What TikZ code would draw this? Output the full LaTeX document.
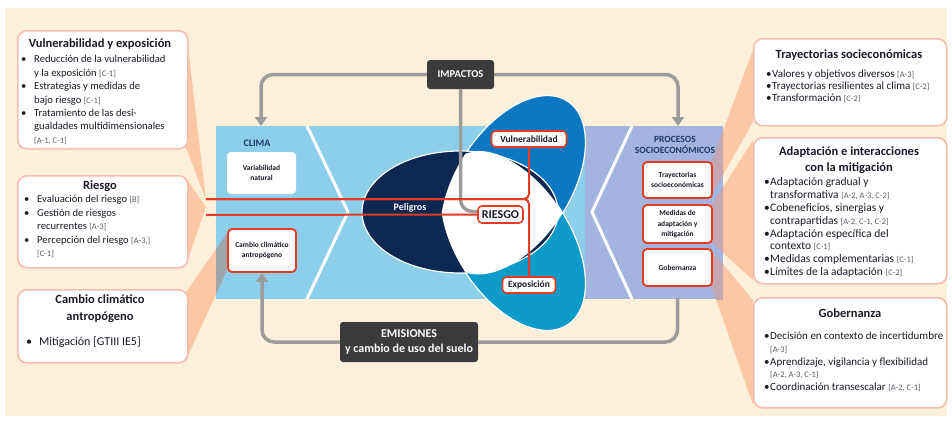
\documentclass[tikz,border=0pt]{standalone}
\usepackage{fontspec}
\setmainfont{Carlito}
\usetikzlibrary{arrows.meta}
\definecolor{bgbeige}{HTML}{FDF0DB}
\definecolor{fanpeach}{HTML}{FCC7A5}
\definecolor{boxline}{HTML}{F6BDAE}
\definecolor{panelblue}{HTML}{8DCFEA}
\definecolor{panellav}{HTML}{A3B5DE}
\definecolor{navyell}{HTML}{0C2752}
\definecolor{vulblue}{HTML}{0B78C1}
\definecolor{expteal}{HTML}{0E9BC9}
\definecolor{riskred}{HTML}{E63B23}
\definecolor{arrgray}{HTML}{9C9C9C}
\definecolor{boxdark}{HTML}{3B3B3B}
\definecolor{titlenavy}{HTML}{1D3A6C}
\definecolor{txtdark}{HTML}{1A1A28}
\definecolor{refgray}{HTML}{5A5A66}
\definecolor{fangray}{HTML}{9EA6AA}
\definecolor{fanmauve}{HTML}{C3A6B2}
\newcommand{\bul}{\makebox[13pt][l]{\textbullet}}
\newcommand{\ind}{\hspace*{13pt}}
\newcommand{\rbul}{\makebox[6pt][l]{\textbullet}}
\newcommand{\rind}{\hspace*{6pt}}
\newcommand{\rf}[1]{{\fontsize{8.5}{9}\selectfont\color{refgray}[#1]}}
\tikzset{
  sidebox/.style={draw=boxline, line width=1.6pt, fill=white, rounded corners=9pt, anchor=north west, inner sep=0pt},
  sidetitle/.style={font=\fontsize{12.5}{16.5}\selectfont\bfseries, text=txtdark, align=center, inner sep=0pt},
  sidetext/.style={font=\fontsize{10.6}{13.4}\selectfont, text=txtdark, align=left, anchor=north west, inner sep=0pt},
  procbox/.style={draw=riskred, line width=1.8pt, fill=white, rounded corners=4pt, inner sep=0pt, align=center, font=\fontsize{7.5}{10.5}\selectfont\bfseries, text=txtdark},
  climbox/.style={fill=white, rounded corners=4pt, inner sep=0pt, align=center, font=\fontsize{7.5}{10}\selectfont\bfseries, text=txtdark},
  redlbl/.style={draw=riskred, line width=1.6pt, fill=white, rounded corners=4pt, inner sep=0pt, font=\fontsize{9.5}{11}\selectfont\bfseries, text=txtdark},
  darkbx/.style={fill=boxdark, rounded corners=3pt, text=white, inner sep=0pt, align=center},
  grayline/.style={draw=arrgray, line width=3.5pt, rounded corners=12pt},
  grayarrow/.style={grayline, -{Triangle[length=9pt,width=12pt]}},
  redline/.style={draw=riskred, line width=2pt},
}
\begin{document}
\begin{tikzpicture}[x=1pt,y=-1pt,line join=round]
\useasboundingbox (0,0) rectangle (952,421);
\fill[bgbeige] (5,8) rectangle (947,416);
% fans
\fill[fanpeach] (186,30) -- (206,200) -- (186,148) -- cycle;
\fill[fanpeach] (186,178) -- (206,207) -- (186,265) -- cycle;
\fill[fanpeach] (186,292) -- (228,232) -- (228,268) -- (186,360) -- cycle;
\fill[fanpeach] (753,50) -- (711,163) -- (711,196) -- (753,122) -- cycle;
\fill[fanpeach] (753,140) -- (711,206) -- (711,242) -- (753,280) -- cycle;
\fill[fanpeach] (753,300) -- (711,250) -- (711,285) -- (753,405) -- cycle;
% panels
\fill[panelblue] (216,126) rectangle (585,299);
\fill[panellav] (585,126) rectangle (723,299);
\begin{scope}
\clip (216,126) rectangle (723,299);
\fill[fangray] (186,292) -- (228,232) -- (228,268) -- (186,360) -- cycle;
\fill[fanmauve] (753,50) -- (711,163) -- (711,196) -- (753,122) -- cycle;
\fill[fanmauve] (753,140) -- (711,206) -- (711,242) -- (753,280) -- cycle;
\fill[fanmauve] (753,300) -- (711,250) -- (711,285) -- (753,405) -- cycle;
\end{scope}
\draw[white, line width=3pt] (307,126) -- (348,212) -- (307,299);
\draw[white, line width=3pt] (632,126) -- (592,212) -- (632,299);
% ellipses
\filldraw[fill=vulblue, draw=white, line width=1.2pt, rotate around={57:(513,185)}] (513,185) ellipse [x radius=100, y radius=57];
\filldraw[fill=expteal, draw=white, line width=1.2pt, rotate around={-57:(513,241)}] (513,241) ellipse [x radius=100, y radius=57];
\filldraw[fill=navyell, draw=white, line width=1.2pt] (460,212) ellipse [x radius=98, y radius=61];
\begin{scope}
\clip[rotate around={57:(513,185)}] (513,185) ellipse [x radius=100, y radius=57];
\fill[white, rotate around={-57:(513,241)}] (513,241) ellipse [x radius=100, y radius=57];
\end{scope}
\node[font=\fontsize{10}{12}\selectfont\bfseries, text=white] (pel) at (410,208) {Peligros};
% centre nodes
\node[font=\fontsize{10}{12}\selectfont\bfseries, text=titlenavy] (clima) at (257,143) {CLIMA};
\node[climbox, minimum width=69, minimum height=42] (varnat) at (261.5,173) {Variabilidad\\natural};
\node[procbox, minimum width=68, minimum height=43] (camb) at (262,250.5) {Cambio climático\\antropógeno};
\node[font=\fontsize{9.5}{11}\selectfont\bfseries, text=titlenavy, align=center, inner sep=0pt] (proc) at (675,145) {PROCESOS\\SOCIOECONÓMICOS};
\node[procbox, minimum width=69, minimum height=36] (tray) at (677.5,180) {Trayectorias\\socioeconómicas};
\node[procbox, minimum width=69, minimum height=38] (med) at (677.5,224) {Medidas de\\adaptación y\\mitigación};
\node[procbox, minimum width=69, minimum height=37] (gob) at (677.5,267.5) {Gobernanza};
\node[redlbl, minimum width=75, minimum height=16] (vul) at (529,139) {Vulnerabilidad};
\node[redlbl, font=\fontsize{12}{14}\selectfont\bfseries, minimum width=45, minimum height=17] (riesgo) at (500.5,214.5) {RIESGO};
\node[redlbl, minimum width=53, minimum height=16] (expo) at (529,285) {Exposición};
\node[darkbx, minimum width=67, minimum height=29, font=\fontsize{10.5}{12}\selectfont\bfseries] (imp) at (460.5,74.5) {IMPACTOS};
\node[darkbx, minimum width=138, minimum height=40, font=\fontsize{12}{15}\selectfont\bfseries] (emi) at (409,342) {EMISIONES\\y cambio de uso del suelo};
% connectors
\coordinate (climtop) at (261,126);
\coordinate (proctop) at (678,126);
\coordinate (govbot) at (677.5,298);
\coordinate (lt1) at (206,199);
\coordinate (lt2) at (206,215);
\draw[grayarrow] (imp.west) -| (climtop);
\draw[grayarrow] (imp.east) -| (proctop);
\draw[grayline] (imp.south) |- ([yshift=3pt]riesgo.west);
\draw[grayarrow] (emi.west) -| (camb.south);
\draw[grayline] (emi.east) -| (govbot);
\draw[redline, rounded corners=5pt] (lt1) -| (vul.south);
\draw[redline, rounded corners=5pt] (lt1) -| (expo.north);
\draw[redline] (lt2) -- (riesgo.west);
% left boxes
\node[sidebox, minimum width=170, minimum height=118] (vulbox) at (17,30) {};
\node[sidetitle] (vultitle) at (100,44) {Vulnerabilidad y exposición};
\node[sidetext] (vultext) at (21,53.3) {\strut\bul Reducción de la vulnerabilidad\\ \ind y la exposición \rf{C-1}\\ \bul Estrategias y medidas de\\ \ind bajo riesgo \rf{C-1}\\ \bul Tratamiento de las desi-\\ \ind gualdades multidimensionales\\ \ind\rf{A-1, C-1}};
\node[sidebox, minimum width=170, minimum height=92] (riskbox) at (17,175) {};
\node[sidetitle] (risktitle) at (100,186) {Riesgo};
\node[sidetext] (risktext) at (24,193.3) {\strut\bul Evaluación del riesgo \rf{B}\\ \bul Gestión de riesgos\\ \ind recurrentes \rf{A-3}\\ \bul Percepción del riesgo \rf{A-3,}\\ \ind\rf{C-1}};
\node[sidebox, minimum width=170, minimum height=73] (ccbox) at (17,289) {};
\node[sidetitle] (cctitle) at (100,308.5) {Cambio climático\\antropógeno};
\node[sidetext, anchor=west, font=\fontsize{12}{14}\selectfont] (cctext) at (26,342) {\bul Mitigación [GTIII IE5]};
% right boxes
\node[sidebox, minimum width=193, minimum height=87] (traybox) at (753,38) {};
\node[sidetitle] (traytitle) at (849,55) {Trayectorias socieconómicas};
\node[sidetext, font=\fontsize{11}{11.8}\selectfont] (traytext) at (766,69.4) {\strut\rbul Valores y objetivos diversos \rf{A-3}\\ \rbul Trayectorias resilientes al clima \rf{C-2}\\ \rbul Transformación \rf{C-2}};
\node[sidebox, minimum width=193, minimum height=146] (adabox) at (753,137) {};
\node[sidetitle, font=\fontsize{12.5}{16}\selectfont\bfseries] (adatitle) at (849,160) {Adaptación e interacciones\\con la mitigación};
\node[sidetext, font=\fontsize{11.5}{12.8}\selectfont] (adatext) at (764,176.8) {\strut\rbul Adaptación gradual y\\ \rind transformativa \rf{A-2, A-3, C-2}\\ \rbul Cobeneficios, sinergias y\\ \rind contrapartidas \rf{A-2, C-1, C-2}\\ \rbul Adaptación específica del\\ \rind contexto \rf{C-1}\\ \rbul Medidas complementarias \rf{C-1}\\ \rbul Límites de la adaptación \rf{C-2}};
\node[sidebox, minimum width=193, minimum height=110] (govbox) at (753,297) {};
\node[sidetitle, font=\fontsize{12.5}{15}\selectfont\bfseries] (govtitle) at (850,313) {Gobernanza};
\node[sidetext, font=\fontsize{11}{12.6}\selectfont] (govtext) at (764,330.9) {\strut\rbul Decisión en contexto de incertidumbre\\ \rind\rf{A-3}\\ \rbul Aprendizaje, vigilancia y flexibilidad\\ \rind\rf{A-2, A-3, C-1}\\ \rbul Coordinación transescalar \rf{A-2, C-1}};
\end{tikzpicture}
\end{document}
